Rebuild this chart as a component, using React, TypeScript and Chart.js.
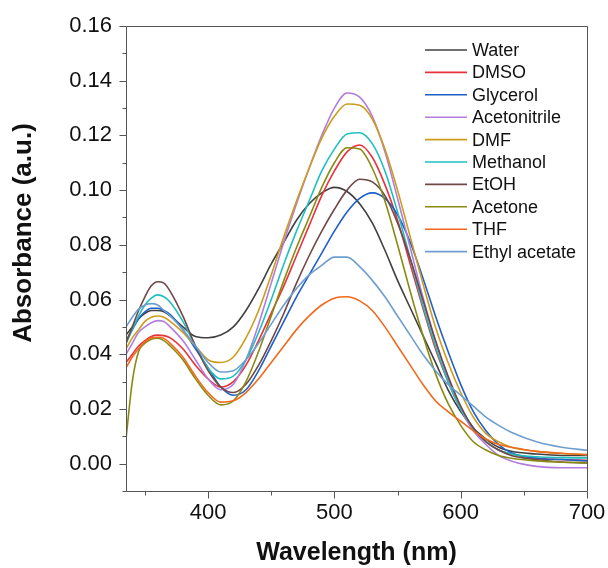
import React, { useEffect, useRef } from "react";
import { Chart, registerables } from "chart.js";

Chart.register(...registerables);

const wavelengths = [335, 340, 345, 350, 355, 360, 365, 370, 380, 390, 400, 410, 420, 430, 440, 450, 460, 470, 480, 490, 500, 510, 520, 530, 540, 550, 560, 570, 580, 590, 600, 610, 620, 630, 640, 660, 680, 700];

const water = [0.047, 0.050, 0.053, 0.055, 0.056, 0.056, 0.0555, 0.054, 0.050, 0.0465, 0.046, 0.047, 0.050, 0.056, 0.064, 0.073, 0.081, 0.089, 0.095, 0.099, 0.101, 0.0995, 0.095, 0.088, 0.078, 0.067, 0.057, 0.047, 0.037, 0.027, 0.019, 0.013, 0.009, 0.006, 0.0045, 0.0035, 0.003, 0.003];
const dmso = [0.037, 0.040, 0.043, 0.045, 0.0465, 0.047, 0.0468, 0.046, 0.042, 0.036, 0.031, 0.028, 0.030, 0.036, 0.045, 0.055, 0.065, 0.076, 0.087, 0.098, 0.107, 0.114, 0.1165, 0.112, 0.102, 0.089, 0.073, 0.057, 0.042, 0.030, 0.020, 0.013, 0.008, 0.005, 0.0035, 0.002, 0.0015, 0.0012];
const glycerol = [0.045, 0.049, 0.053, 0.0555, 0.0568, 0.0568, 0.056, 0.0545, 0.049, 0.042, 0.035, 0.028, 0.025, 0.027, 0.034, 0.043, 0.052, 0.061, 0.069, 0.077, 0.085, 0.092, 0.097, 0.099, 0.097, 0.091, 0.081, 0.068, 0.054, 0.041, 0.029, 0.019, 0.012, 0.007, 0.004, 0.002, 0.0015, 0.001];
const acetonitrile = [0.040, 0.044, 0.048, 0.050, 0.0515, 0.0523, 0.052, 0.050, 0.045, 0.038, 0.031, 0.027, 0.029, 0.038, 0.051, 0.066, 0.081, 0.095, 0.108, 0.120, 0.130, 0.1355, 0.134, 0.127, 0.114, 0.097, 0.079, 0.061, 0.045, 0.031, 0.020, 0.012, 0.007, 0.003, 0.001, -0.001, -0.0015, -0.0015];
const dmf = [0.042, 0.046, 0.049, 0.052, 0.0535, 0.054, 0.0535, 0.052, 0.048, 0.043, 0.038, 0.037, 0.039, 0.046, 0.056, 0.069, 0.083, 0.096, 0.108, 0.119, 0.127, 0.1315, 0.131, 0.126, 0.115, 0.100, 0.083, 0.066, 0.050, 0.037, 0.026, 0.017, 0.011, 0.008, 0.006, 0.0045, 0.0037, 0.0033];
const methanol = [0.044, 0.049, 0.054, 0.058, 0.0605, 0.0617, 0.061, 0.059, 0.052, 0.043, 0.035, 0.031, 0.032, 0.038, 0.048, 0.060, 0.073, 0.085, 0.096, 0.107, 0.115, 0.1205, 0.121, 0.117, 0.107, 0.092, 0.075, 0.058, 0.043, 0.030, 0.020, 0.013, 0.008, 0.005, 0.0035, 0.0025, 0.0022, 0.0021];
const etoh = [0.044, 0.050, 0.056, 0.061, 0.065, 0.0665, 0.066, 0.063, 0.054, 0.043, 0.034, 0.028, 0.026, 0.029, 0.036, 0.045, 0.055, 0.066, 0.076, 0.085, 0.093, 0.100, 0.104, 0.103, 0.098, 0.088, 0.075, 0.060, 0.045, 0.032, 0.021, 0.013, 0.008, 0.005, 0.003, 0.0015, 0.0006, 0.0003];
const acetone = [0.009, 0.030, 0.041, 0.044, 0.0455, 0.0459, 0.045, 0.043, 0.038, 0.031, 0.025, 0.0215, 0.023, 0.030, 0.041, 0.054, 0.067, 0.079, 0.090, 0.101, 0.110, 0.1155, 0.115, 0.108, 0.096, 0.080, 0.063, 0.047, 0.033, 0.022, 0.014, 0.008, 0.005, 0.003, 0.002, 0.001, 0.0005, 0.0003];
const thf = [0.035, 0.039, 0.042, 0.0445, 0.046, 0.0462, 0.0458, 0.044, 0.039, 0.032, 0.026, 0.0225, 0.023, 0.026, 0.031, 0.037, 0.043, 0.049, 0.054, 0.058, 0.0605, 0.061, 0.0595, 0.056, 0.050, 0.043, 0.036, 0.029, 0.023, 0.019, 0.0155, 0.012, 0.009, 0.007, 0.006, 0.0045, 0.0038, 0.0033];
const ethylAcetate = [0.050, 0.0535, 0.0565, 0.058, 0.0585, 0.058, 0.056, 0.054, 0.049, 0.043, 0.037, 0.0335, 0.034, 0.038, 0.044, 0.051, 0.058, 0.064, 0.069, 0.0725, 0.0755, 0.0755, 0.072, 0.067, 0.061, 0.054, 0.047, 0.040, 0.034, 0.029, 0.025, 0.021, 0.017, 0.014, 0.0115, 0.008, 0.006, 0.0049];

const seriesNames = ["Water", "DMSO", "Glycerol", "Acetonitrile", "DMF", "Methanol", "EtOH", "Acetone", "THF", "Ethyl acetate"];
const seriesValues = [water, dmso, glycerol, acetonitrile, dmf, methanol, etoh, acetone, thf, ethylAcetate];
const seriesColors = ["#404040", "#e8323c", "#1f5fc8", "#b27ddf", "#cc9c1c", "#1fbfbf", "#704848", "#8a8a12", "#f06a1e", "#6e9ecf"];

const yMajorTicks = [0, 0.02, 0.04, 0.06, 0.08, 0.1, 0.12, 0.14, 0.16];
const yMinorTicks = [-0.01, 0.01, 0.03, 0.05, 0.07, 0.09, 0.11, 0.13, 0.15];
const xMajorTicks = [400, 500, 600, 700];
const xMinorTicks = [350, 450, 550, 650];
const yTitle = "Absorbance (a.u.)";
const xTitle = "Wavelength (nm)";

const FONT = "'Liberation Sans', Arial, sans-serif";

const framePlugin = {
  id: "frameAndTicks",
  afterDraw(chart: any) {
    const { ctx, chartArea } = chart;
    const xs = chart.scales.x;
    const ys = chart.scales.y;
    ctx.save();
    ctx.strokeStyle = "#555";
    ctx.lineWidth = 1;
    ctx.beginPath();
    ctx.rect(Math.round(chartArea.left) + 0.5, Math.round(chartArea.top) + 0.5, Math.round(chartArea.right - chartArea.left), Math.round(chartArea.bottom - chartArea.top));
    ctx.stroke();
    ctx.beginPath();
    const L = Math.round(chartArea.left) + 0.5;
    const B = Math.round(chartArea.bottom) + 0.5;
    yMajorTicks.forEach((v) => {
      const y = Math.round(ys.getPixelForValue(v)) + 0.5;
      ctx.moveTo(L, y);
      ctx.lineTo(L - 7, y);
    });
    yMinorTicks.forEach((v) => {
      const y = Math.round(ys.getPixelForValue(v)) + 0.5;
      ctx.moveTo(L, y);
      ctx.lineTo(L - 4, y);
    });
    xMajorTicks.forEach((v) => {
      const x = Math.round(xs.getPixelForValue(v)) + 0.5;
      ctx.moveTo(x, B);
      ctx.lineTo(x, B + 7);
    });
    xMinorTicks.forEach((v) => {
      const x = Math.round(xs.getPixelForValue(v)) + 0.5;
      ctx.moveTo(x, B);
      ctx.lineTo(x, B + 4);
    });
    ctx.stroke();

    // y-axis title
    ctx.save();
    ctx.translate(24, 233);
    ctx.rotate(-Math.PI / 2);
    ctx.font = "bold 26px " + FONT;
    ctx.fillStyle = "#111";
    ctx.textAlign = "center";
    ctx.textBaseline = "middle";
    ctx.fillText(yTitle, 0, 0);
    ctx.restore();

    // legend
    const lx0 = 425;
    const lx1 = 467;
    const tx = 472;
    const y0 = 50;
    const step = 22.4;
    ctx.font = "18px " + FONT;
    ctx.textBaseline = "middle";
    ctx.textAlign = "left";
    chart.data.datasets.forEach((ds: any, i: number) => {
      const y = y0 + i * step;
      ctx.strokeStyle = ds.borderColor;
      ctx.lineWidth = 1.6;
      ctx.beginPath();
      ctx.moveTo(lx0, y);
      ctx.lineTo(lx1, y);
      ctx.stroke();
      ctx.fillStyle = "#111";
      ctx.fillText(ds.label, tx, y + 1);
    });
    ctx.restore();
  },
};

export default function App() {
  const ref = useRef<HTMLCanvasElement | null>(null);
  useEffect(() => {
    if (!ref.current) return;
    const datasets = seriesNames.map((name, i) => ({
      label: name,
      data: wavelengths.map((w, j) => ({ x: w, y: seriesValues[i][j] })),
      borderColor: seriesColors[i],
      backgroundColor: seriesColors[i],
      borderWidth: 1.6,
      pointRadius: 0,
      fill: false,
      cubicInterpolationMode: "monotone" as const,
      order: seriesNames.length - i,
    }));
    const chart = new Chart(ref.current, {
      type: "line",
      data: { datasets },
      options: {
        animation: false,
        responsive: false,
        maintainAspectRatio: false,
        layout: { padding: { top: 26, right: 21, left: 0, bottom: 0 } },
        plugins: { legend: { display: false }, tooltip: { enabled: false } },
        scales: {
          x: {
            type: "linear",
            min: 335,
            max: 700,
            afterBuildTicks: (s: any) => {
              s.ticks = xMajorTicks.map((v) => ({ value: v }));
            },
            afterFit: (s: any) => {
              s.height = 77;
              s.paddingLeft = 0;
              s.paddingRight = 0;
            },
            grid: { display: false, drawTicks: false, tickLength: 0 },
            border: { display: false },
            ticks: { color: "#111", font: { family: FONT, size: 22 }, padding: 9, maxRotation: 0, autoSkip: false },
            title: { display: true, text: xTitle, color: "#111", font: { family: FONT, size: 25, weight: "bold" }, padding: { top: 0, bottom: 0 } },
          },
          y: {
            type: "linear",
            min: -0.01,
            max: 0.16,
            afterBuildTicks: (s: any) => {
              s.ticks = yMajorTicks.map((v) => ({ value: v }));
            },
            afterFit: (s: any) => {
              s.width = 126;
              s.paddingTop = 0;
              s.paddingBottom = 0;
            },
            grid: { display: false, drawTicks: false, tickLength: 0 },
            border: { display: false },
            ticks: { color: "#111", font: { family: FONT, size: 22 }, padding: 14, callback: (v: any) => Number(v).toFixed(2), autoSkip: false },
            title: { display: false },
          },
        },
      },
      plugins: [framePlugin],
    });
    return () => chart.destroy();
  }, []);
  return (
    <div style={{ position: "absolute", left: 0, top: 0, width: 608, height: 568, background: "#fff" }}>
      <canvas ref={ref} width={608} height={568} style={{ display: "block" }} />
    </div>
  );
}
